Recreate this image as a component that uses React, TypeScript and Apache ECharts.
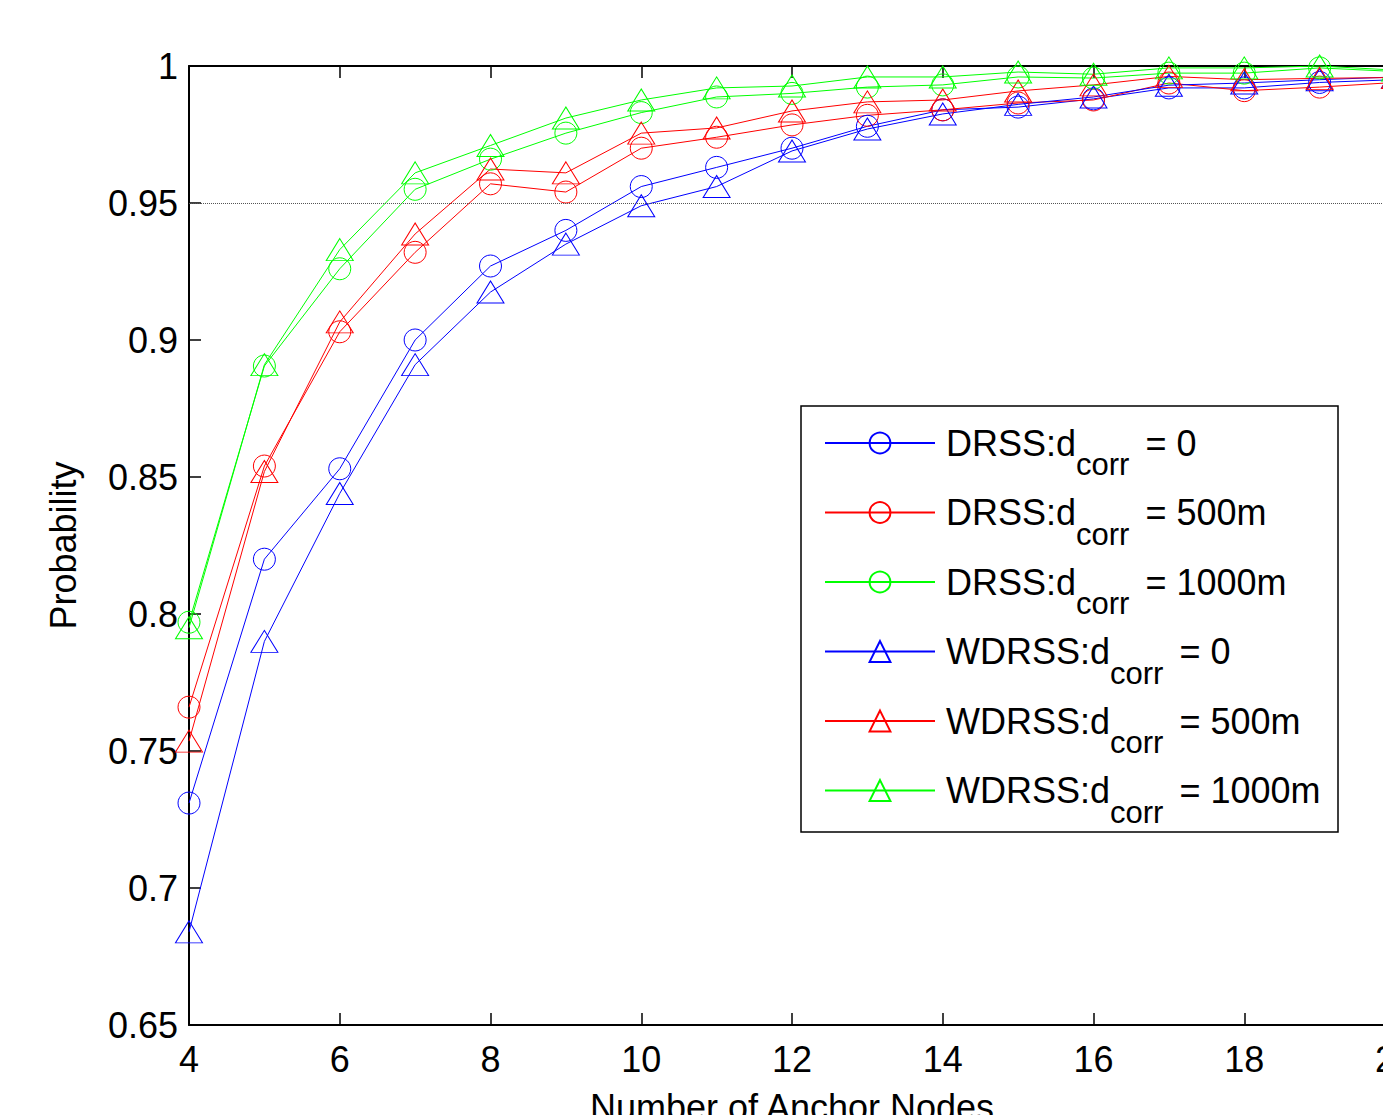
import React, { useEffect, useRef } from "react";
import * as echarts from "echarts";

const xValues = [4, 5, 6, 7, 8, 9, 10, 11, 12, 13, 14, 15, 16, 17, 18, 19, 20];
const drss0 = [0.731, 0.820, 0.853, 0.900, 0.927, 0.940, 0.956, 0.963, 0.970, 0.978, 0.984, 0.985, 0.988, 0.992, 0.992, 0.994, 0.995];
const drss500 = [0.766, 0.854, 0.903, 0.932, 0.957, 0.954, 0.970, 0.974, 0.9785, 0.982, 0.984, 0.9865, 0.9876, 0.9938, 0.991, 0.9923, 0.994];
const drss1000 = [0.797, 0.8905, 0.926, 0.955, 0.966, 0.9755, 0.983, 0.9887, 0.990, 0.9923, 0.9931, 0.996, 0.9956, 0.9974, 0.9974, 0.9993, 0.998];
const wdrss0 = [0.684, 0.790, 0.844, 0.891, 0.9175, 0.935, 0.949, 0.956, 0.969, 0.977, 0.9825, 0.986, 0.9887, 0.993, 0.9938, 0.995, 0.996];
const wdrss500 = [0.7536, 0.852, 0.9066, 0.9387, 0.9624, 0.961, 0.9755, 0.9774, 0.9836, 0.9869, 0.9876, 0.9909, 0.9931, 0.9962, 0.995, 0.9955, 0.9958];
const wdrss1000 = [0.795, 0.891, 0.933, 0.961, 0.971, 0.981, 0.9876, 0.992, 0.9927, 0.996, 0.996, 0.9978, 0.997, 0.9993, 0.9993, 1.0, 0.9985];

const seriesValues = [drss0, drss500, drss1000, wdrss0, wdrss500, wdrss1000];
const seriesNames = [
  "DRSS:dcorr = 0",
  "DRSS:dcorr = 500m",
  "DRSS:dcorr = 1000m",
  "WDRSS:dcorr = 0",
  "WDRSS:dcorr = 500m",
  "WDRSS:dcorr = 1000m",
];
const seriesColors = ["#0000ff", "#ff0000", "#00ff00", "#0000ff", "#ff0000", "#00ff00"];
const seriesSymbols = ["circle", "circle", "circle", "triangle", "triangle", "triangle"];
const referenceLevel = 0.95;

const FONT = "'Liberation Sans', Arial, sans-serif";

export default function App() {
  const ref = useRef<HTMLDivElement>(null);
  useEffect(() => {
    if (!ref.current) return;
    const chart = echarts.init(ref.current, undefined, { renderer: "svg" });
    const axisLine = { show: true, onZero: false, lineStyle: { color: "#000", width: 2 } };
    const axisTick = { show: true, inside: true, length: 12, lineStyle: { color: "#000", width: 1.5 } };
    const series: any[] = seriesValues.map((vals, si) => ({
      name: seriesNames[si],
      type: "line",
      data: xValues.map((x, i) => [x, vals[i]]),
      symbol: seriesSymbols[si],
      symbolSize: seriesSymbols[si] === "circle" ? 22 : [27, 22],
      showAllSymbol: true,
      clip: false,
      lineStyle: { color: seriesColors[si], width: 1 },
      itemStyle: { color: "transparent", borderColor: seriesColors[si], borderWidth: 1 },
      emphasis: { disabled: true },
      markLine:
        si === 0
          ? {
              silent: true,
              symbol: "none",
              label: { show: false },
              lineStyle: { type: [1, 1], color: "#555", width: 1 },
              data: [{ yAxis: referenceLevel }],
            }
          : undefined,
    }));
    chart.setOption({
      animation: false,
      backgroundColor: "#fff",
      textStyle: { fontFamily: FONT },
      grid: { left: 189, right: 25, top: 66, bottom: 90, containLabel: false, outerBoundsMode: "none" },
      xAxis: [
        {
          type: "value",
          min: 4,
          max: 20,
          interval: 2,
          position: "bottom",
          axisLine,
          axisTick,
          splitLine: { show: false },
          axisLabel: { fontSize: 36, color: "#000", margin: 16, fontFamily: FONT },
          name: "Number of Anchor Nodes",
          nameLocation: "middle",
          nameGap: 64,
          nameTextStyle: { fontSize: 36, color: "#000", fontFamily: FONT },
        },
        {
          type: "value",
          min: 4,
          max: 20,
          interval: 2,
          position: "top",
          axisLine,
          axisTick,
          splitLine: { show: false },
          axisLabel: { show: false },
        },
      ],
      yAxis: [
        {
          type: "value",
          min: 0.65,
          max: 1,
          interval: 0.05,
          position: "left",
          axisLine,
          axisTick,
          splitLine: { show: false },
          axisLabel: {
            fontSize: 36,
            color: "#000",
            margin: 11,
            fontFamily: FONT,
            formatter: (v: number) => String(+v.toFixed(2)),
          },
          name: "Probability",
          nameLocation: "middle",
          nameGap: 108,
          nameTextStyle: { fontSize: 36, color: "#000", fontFamily: FONT },
        },
        {
          type: "value",
          min: 0.65,
          max: 1,
          interval: 0.05,
          position: "right",
          axisLine,
          axisTick,
          splitLine: { show: false },
          axisLabel: { show: false },
        },
      ],
      legend: {
        orient: "vertical",
        left: 824,
        top: 425,
        padding: 0,
        itemWidth: 110,
        itemHeight: 26,
        itemGap: 14.5,
        selectedMode: false,
        data: seriesNames,
        formatter: (name: string) => {
          const [pre, post] = name.split("dcorr");
          return `{m|${pre}d}{sub|corr}{e|${post}}`;
        },
        textStyle: {
          fontFamily: FONT,
          color: "#000",
          padding: [0, 0, 0, 6],
          rich: {
            m: { fontSize: 36, lineHeight: 36, verticalAlign: "top", color: "#000", fontFamily: FONT },
            e: {
              fontSize: 36,
              lineHeight: 36,
              verticalAlign: "top",
              padding: [0, 0, 0, 6],
              color: "#000",
              fontFamily: FONT,
            },
            sub: {
              fontSize: 31,
              lineHeight: 31,
              verticalAlign: "top",
              padding: [24, 0, 0, 0],
              color: "#000",
              fontFamily: FONT,
            },
          },
        },
      },
      graphic: [
        {
          type: "rect",
          shape: { x: 801, y: 406, width: 537, height: 426 },
          style: { fill: "none", stroke: "#000", lineWidth: 1.5 },
          z: 0,
        },
      ],
      series,
    });
    return () => chart.dispose();
  }, []);
  return (
    <div
      style={{
        position: "absolute",
        left: 0,
        top: 0,
        width: 1383,
        height: 1115,
        overflow: "hidden",
        background: "#fff",
      }}
    >
      <div ref={ref} style={{ width: 1420, height: 1115 }} />
    </div>
  );
}
